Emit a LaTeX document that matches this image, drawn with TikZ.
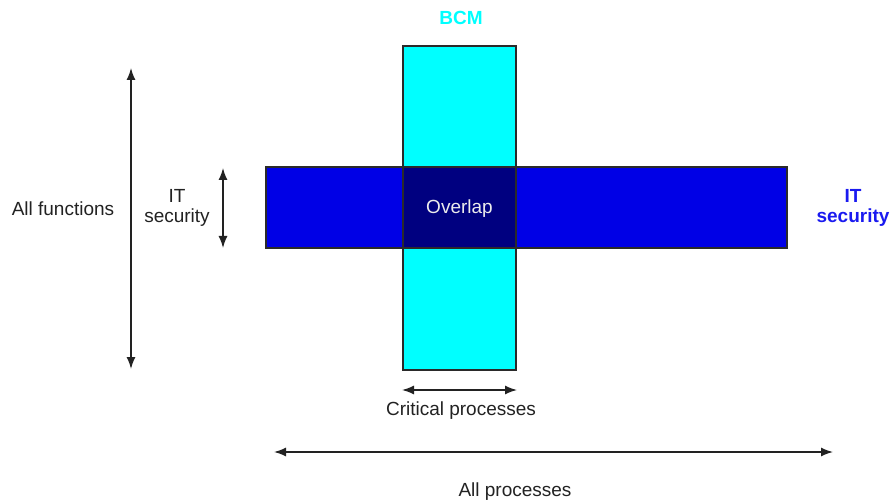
\documentclass[tikz,border=0pt]{standalone}
\usepackage{fontspec}
\setmainfont{Liberation Sans}
\usetikzlibrary{arrows.meta}
\definecolor{bcmcyan}{HTML}{00FFFF}
\definecolor{itblue}{HTML}{0000E6}
\definecolor{ovnavy}{HTML}{000080}
\definecolor{edgegray}{HTML}{2A2A2A}
\definecolor{textgray}{HTML}{222222}
\definecolor{itlabel}{HTML}{1A1AF0}
\tikzset{
  area/.style={draw=edgegray, line width=1.4pt},
  tip/.tip={Latex[length=12pt,width=9pt]},
  dim/.style={line width=1.4pt, draw=textgray, tip-tip},
  lbl/.style={font=\fontsize{19}{21}\selectfont, text=textgray, align=center, inner sep=0pt},
  headlbl/.style={font=\fontsize{19}{21}\selectfont\bfseries, align=center, inner sep=0pt},
}
\begin{document}
\begin{tikzpicture}[x=1pt, y=-1pt]
\useasboundingbox (0,0) rectangle (893,502);
% the two process bands and their overlap
\fill[bcmcyan] (403,46) rectangle (516,370);
\fill[itblue] (266,167) rectangle (787,248);
\fill[ovnavy] (403,167) rectangle (516,248);
\draw[area] (403,46) rectangle (516,370);
\draw[area] (266,167) rectangle (787,248);
\node[lbl, text=white!85!gray] (ov) at (459.5,209) {Overlap};
% band titles
\node[headlbl, text=bcmcyan] (bcm) at (461,18) {BCM};
\node[headlbl, text=itlabel] (itr) at (853,208) {IT\\[-1pt]security};
% vertical dimension arrows
\coordinate (af1) at (131,68);
\coordinate (af2) at (131,369);
\draw[dim] (af1) -- (af2);
\node[lbl] (af) at (63,209) {All functions};
\coordinate (it1) at (223,168);
\coordinate (it2) at (223,248);
\draw[dim] (it1) -- (it2);
\node[lbl] (itl) at (177,208) {IT\\[-1pt]security};
% horizontal dimension arrows
\coordinate (cp1) at (402,390);
\coordinate (cp2) at (517,390);
\draw[dim] (cp1) -- (cp2);
\node[lbl] (cp) at (461,411) {Critical processes};
\coordinate (ap1) at (274,452);
\coordinate (ap2) at (833,452);
\draw[dim] (ap1) -- (ap2);
\node[lbl] (ap) at (515,492) {All processes};
\end{tikzpicture}
\end{document}
